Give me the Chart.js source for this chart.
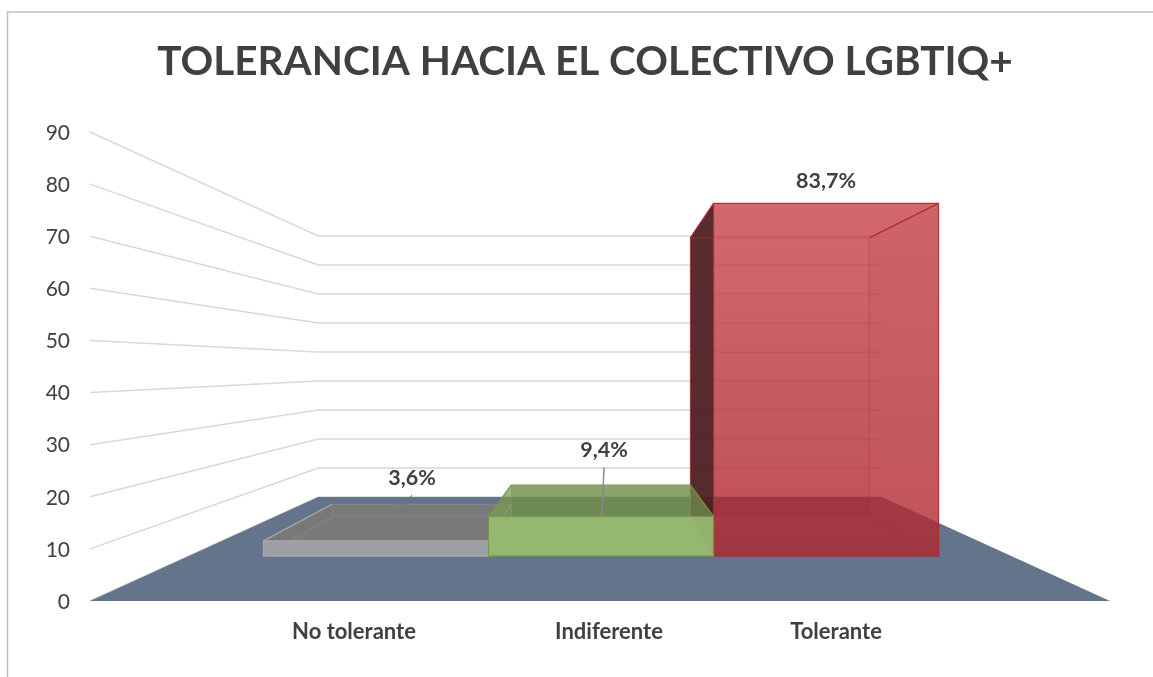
<!DOCTYPE html>
<html><head><meta charset="utf-8">
<style>html,body{margin:0;padding:0;background:#fff}canvas{display:block}</style>
<script src="https://cdn.jsdelivr.net/npm/chart.js@4"></script>
</head><body><canvas id="c" width="1153" height="677"></canvas>
<script>
const categories = ['No tolerante', 'Indiferente', 'Tolerante'];
const values = [3.6, 9.4, 83.7];
const chartTitle = 'TOLERANCIA HACIA EL COLECTIVO LGBTIQ+';

const FONT = 'Lato';
const TEXT = '#404040';
const HORIZON_VALUE = 45, S_FRONT = 0.8085, S_REAR = 0.638, S_REAR_X = 0.643, S_WALL = 0.5565, S_WALL_X = 0.5525, SPREAD = 0.8186, BAR_SHIFT = 1;
const LABEL_NUDGE = [-22, 8, 10];
const VALUE_LABEL = [{dx: 36, dy: -63, leader: [[3, -1], [36, -46]]}, {dx: 3, dy: -66, leader: [[1, -1], [3, -49]]}, {dx: 0, dy: -22, leader: null}];
const DRAW_ORDER = [0, 2, 1];
const STYLES = [
  {back: ['rgba(118,118,118,.85)', 'rgba(118,118,118,.85)'], top: ['rgba(124,122,122,.85)', 'rgba(124,122,122,.85)'], side: 'rgba(120,120,120,.5)',
   front: ['rgba(162,163,166,.9)', 'rgba(162,163,166,.9)'], edge: 'rgba(172,172,174,.9)', inner: 'rgba(150,150,150,.5)'},
  {back: ['rgba(113,143,73,.55)', 'rgba(113,143,73,.55)'], top: ['rgba(113,143,73,.6)', 'rgba(113,143,73,.6)'], side: 'rgba(130,165,85,.35)',
   front: ['rgba(152,188,112,.9)', 'rgba(152,188,112,.9)'], edge: 'rgba(118,150,72,.9)', inner: 'rgba(130,160,80,.6)'},
  {back: ['rgba(198,66,70,.55)', 'rgba(172,36,42,.55)'], top: ['rgba(198,66,70,.55)', 'rgba(198,66,70,.55)'], side: 'rgba(182,48,54,.55)', dark: 'rgba(66,26,28,.85)',
   front: ['rgba(198,66,70,.55)', 'rgba(172,36,42,.55)'], edge: 'rgba(172,40,48,.9)', inner: 'rgba(175,45,52,.55)'}
];

function poly(ctx, pts, fill, stroke, lw) {
  ctx.beginPath();
  pts.forEach((p, i) => i ? ctx.lineTo(p[0], p[1]) : ctx.moveTo(p[0], p[1]));
  ctx.closePath();
  if (fill) { ctx.fillStyle = fill; ctx.fill(); }
  if (stroke) { ctx.strokeStyle = stroke; ctx.lineWidth = lw || 1; ctx.stroke(); }
}
function projector(chart) {
  const a = chart.chartArea, y = chart.scales.y;
  const cx = (a.left + a.right) / 2, vy = y.getPixelForValue(HORIZON_VALUE);
  return {cx, vy, y, p: (X, v, s, sx) => [cx + (X - cx) * (sx || s), vy + (y.getPixelForValue(v) - vy) * s]};
}
const scene = {
  id: 'scene',
  beforeDatasetsDraw(chart) {
    const ctx = chart.ctx, a = chart.chartArea, {p, y} = projector(chart);
    ctx.save();
    ctx.strokeStyle = '#bfbfbf'; ctx.lineWidth = 1.5;
    ctx.beginPath(); ctx.moveTo(7.5, 677); ctx.lineTo(7.5, 12); ctx.lineTo(1153, 12); ctx.stroke();
    ctx.strokeStyle = '#d9d9d9'; ctx.lineWidth = 1.5;
    y.ticks.forEach(t => {
      const l0 = p(a.left, t.value, 1), l1 = p(a.left, t.value, S_WALL, S_WALL_X), r = p(a.right, t.value, S_WALL, S_WALL_X);
      ctx.beginPath(); ctx.moveTo(l0[0], l0[1]); ctx.lineTo(l1[0], l1[1]); ctx.lineTo(r[0], r[1]); ctx.stroke();
    });
    poly(ctx, [p(a.left, 0, 1), p(a.right, 0, 1), p(a.right, 0, S_WALL, S_WALL_X), p(a.left, 0, S_WALL, S_WALL_X)], '#64748a');
    ctx.restore();
  },
  afterDatasetsDraw(chart) {
    const ctx = chart.ctx, a = chart.chartArea, {cx, p} = projector(chart);
    const bars = chart.getDatasetMeta(0).data;
    const step = bars[1].x - bars[0].x, half = step * SPREAD / 2;
    const worldX = i => cx + (bars[i].x - cx) * SPREAD + BAR_SHIFT / S_FRONT;
    ctx.save();
    DRAW_ORDER.forEach(i => {
      const st = STYLES[i], v = values[i], X = worldX(i);
      const L = X - half, R = X + half;
      const f00 = p(L, 0, S_FRONT), f10 = p(R, 0, S_FRONT), f11 = p(R, v, S_FRONT), f01 = p(L, v, S_FRONT);
      const r00 = p(L, 0, S_REAR, S_REAR_X), r10 = p(R, 0, S_REAR, S_REAR_X), r11 = p(R, v, S_REAR, S_REAR_X), r01 = p(L, v, S_REAR, S_REAR_X);
      const grad = (c, y0, y1) => { const g = ctx.createLinearGradient(0, y0, 0, y1); g.addColorStop(0, c[0]); g.addColorStop(1, c[1]); return g; };
      poly(ctx, [r00, r10, r11, r01], grad(st.back, r01[1], r00[1]));
      poly(ctx, [r10, f10, f11, r11], st.side);
      poly(ctx, [r00, r10, f10, f00], st.side);
      poly(ctx, [r01, r11, f11, f01], grad(st.top, Math.min(r01[1], f01[1]), Math.max(r01[1], f01[1]) + 1));
      poly(ctx, [r00, f00, f01, r01], st.dark || st.side);
      [[r01, r11], [r11, r10], [r10, r00], [r00, r01], [r00, f00], [r10, f10]].forEach(e => {
        ctx.strokeStyle = st.inner; ctx.lineWidth = 1;
        ctx.beginPath(); ctx.moveTo(e[0][0], e[0][1]); ctx.lineTo(e[1][0], e[1][1]); ctx.stroke();
      });
      poly(ctx, [f00, f10, f11, f01], grad(st.front, f01[1], f00[1]), st.edge, 1.2);
      [[f01, r01], [f11, r11]].forEach(e => {
        ctx.strokeStyle = st.edge; ctx.lineWidth = 1.3;
        ctx.beginPath(); ctx.moveTo(e[0][0], e[0][1]); ctx.lineTo(e[1][0], e[1][1]); ctx.stroke();
      });
    });
    ctx.textAlign = 'center'; ctx.textBaseline = 'middle'; ctx.fillStyle = TEXT;
    ctx.font = 'bold 21.5px ' + FONT;
    values.forEach((v, i) => {
      const top = p(worldX(i), v, S_FRONT), o = VALUE_LABEL[i];
      if (o.leader) {
        ctx.strokeStyle = i ? '#8a8a8a' : '#757575'; ctx.lineWidth = i ? 1.5 : 1;
        ctx.beginPath(); ctx.moveTo(top[0] + o.leader[0][0], top[1] + o.leader[0][1]); ctx.lineTo(top[0] + o.leader[1][0], top[1] + o.leader[1][1]); ctx.stroke();
      }
      ctx.fillText(v.toFixed(1).replace('.', ',') + '%', top[0] + o.dx, top[1] + o.dy);
    });
    ctx.font = 'bold 22px ' + FONT;
    categories.forEach((c, i) => {
      ctx.fillText(c, p(worldX(i), 0, S_FRONT)[0] + LABEL_NUDGE[i], a.bottom + 31);
    });
    ctx.restore();
  }
};

new Chart(document.getElementById('c'), {
  type: 'bar',
  data: {labels: categories, datasets: [{data: values, backgroundColor: 'transparent', borderWidth: 0}]},
  plugins: [scene],
  options: {
    responsive: false, animation: false,
    devicePixelRatio: 1,
    layout: {padding: {left: 40, right: 23, top: 0, bottom: 76}},
    plugins: {
      legend: {display: false}, tooltip: {enabled: false},
      title: {display: true, text: chartTitle, color: TEXT, font: {family: FONT, size: 40.5, weight: 'bold', lineHeight: 1.2}, padding: {top: 38, bottom: 45.4}}
    },
    scales: {
      x: {display: false},
      y: {
        min: 0, max: 90,
        grid: {display: false, drawTicks: false}, border: {display: false},
        afterFit: s => { s.width = 50; },
        ticks: {stepSize: 10, padding: 20, labelOffset: 1, color: TEXT, font: {family: FONT, size: 21}}
      },
      rightMargin: {
        position: 'right', min: 0, max: 1,
        grid: {display: false, drawTicks: false}, border: {display: false},
        ticks: {display: false},
        afterFit: s => { s.width = 20; }
      }
    }
  }
});
</script></body></html>
